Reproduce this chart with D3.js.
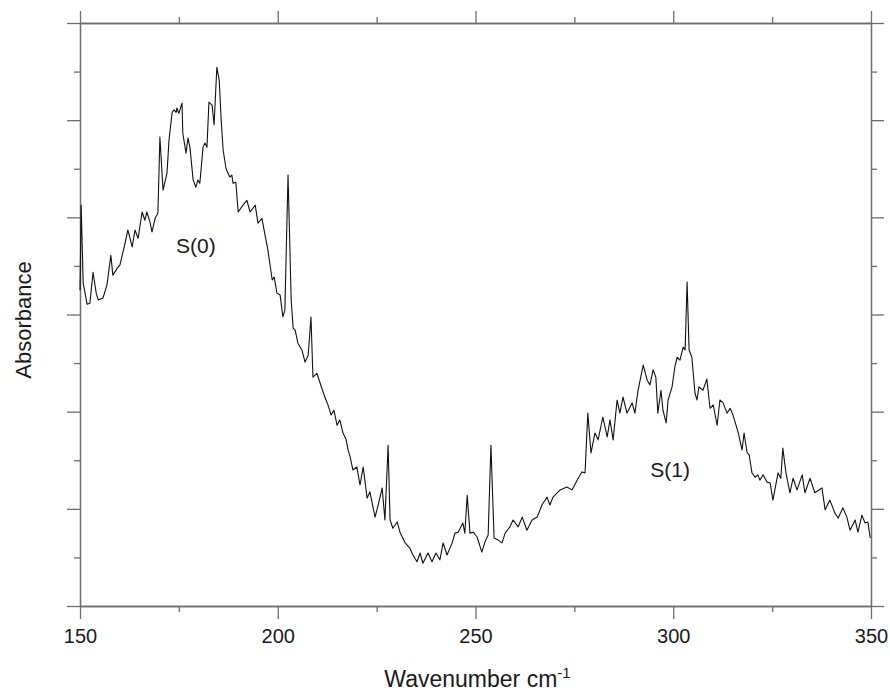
<!DOCTYPE html>
<html>
<head>
<meta charset="utf-8">
<script src="https://d3js.org/d3.v7.min.js"></script>
<style>
body { margin: 0; background: #fff; }
svg text { font-family: Arial, "Liberation Sans", sans-serif; fill: #1a1a1a; }
.axis path, .axis line { stroke: #6e6e6e; stroke-width: 1.3; }
</style>
</head>
<body>
<svg id="chart" width="890" height="691"></svg>
<script>
// spectrum, wavenumber in cm-1, absorbance in arbitrary units
var wavenumber = [
  150.0,150.3,150.8,151.8,152.5,153.3,154.1,154.6,155.8,156.8,
  157.8,158.3,159.4,160.1,161.4,162.1,163.2,163.9,164.7,165.7,
  166.4,166.9,167.7,168.2,169.0,169.7,170.2,171.0,172.0,172.5,
  173.3,173.8,174.3,174.5,175.0,175.8,176.0,176.8,177.3,177.8,
  178.6,179.3,179.8,180.3,181.1,181.6,182.1,182.6,183.4,183.9,
  184.6,185.2,185.7,186.2,186.9,187.4,187.9,188.4,188.7,189.4,
  190.0,191.2,192.2,193.0,194.3,195.0,196.0,196.8,197.5,198.6,
  199.1,199.8,200.6,201.3,201.8,202.6,203.4,203.9,204.4,205.1,
  206.1,206.9,207.7,208.4,208.9,209.9,210.7,212.0,212.7,213.5,
  214.2,215.0,215.7,216.5,217.3,217.8,218.3,219.0,220.0,220.8,
  221.6,222.6,223.3,224.6,225.4,226.4,227.1,227.9,228.4,229.1,
  230.2,230.9,232.2,233.4,234.2,235.2,236.0,236.7,238.0,239.0,
  240.0,241.0,241.8,242.8,244.1,244.8,245.6,246.8,247.3,247.9,
  248.6,249.4,250.4,251.6,252.4,253.2,253.9,254.7,255.7,256.7,
  257.5,258.7,259.5,260.8,261.8,263.0,264.3,265.6,266.8,268.1,
  268.8,269.6,271.4,273.1,274.4,275.7,276.9,277.7,278.4,279.2,
  280.2,281.0,282.2,283.3,284.0,284.8,285.8,286.5,287.3,288.3,
  289.6,290.3,291.1,292.4,293.4,294.1,294.9,295.6,296.1,296.9,
  297.4,298.2,298.7,299.7,300.4,301.0,301.7,302.5,303.0,303.5,
  304.0,304.7,305.5,306.0,306.5,307.5,308.5,309.3,310.1,311.1,
  311.8,312.6,313.6,314.4,315.1,316.4,317.4,317.9,318.7,319.2,
  319.9,320.7,321.4,321.9,322.7,323.7,324.5,325.2,326.5,327.2,
  327.7,328.5,329.5,330.3,331.3,332.6,333.3,334.6,335.8,337.6,
  338.4,339.6,340.9,341.7,342.9,343.9,344.7,346.0,346.7,347.7,
  348.5,349.2,349.8
];
var absorbance = [
  0.650,0.825,0.665,0.621,0.623,0.687,0.644,0.630,0.634,0.660,
  0.722,0.681,0.695,0.702,0.747,0.774,0.739,0.774,0.757,0.811,
  0.794,0.811,0.790,0.770,0.798,0.809,0.965,0.856,0.891,0.959,
  1.016,1.021,1.016,1.025,1.014,1.035,0.973,0.932,0.963,0.944,
  0.877,0.862,0.877,0.870,0.944,0.953,0.944,1.037,1.031,0.990,
  1.109,1.082,1.000,0.938,0.901,0.891,0.883,0.887,0.870,0.872,
  0.811,0.825,0.835,0.811,0.825,0.788,0.798,0.763,0.733,0.671,
  0.677,0.644,0.640,0.595,0.609,0.887,0.630,0.572,0.568,0.541,
  0.527,0.502,0.516,0.595,0.471,0.479,0.459,0.428,0.414,0.393,
  0.403,0.372,0.383,0.356,0.342,0.321,0.307,0.280,0.286,0.249,
  0.286,0.222,0.235,0.183,0.208,0.243,0.177,0.331,0.177,0.160,
  0.173,0.152,0.130,0.119,0.105,0.091,0.109,0.088,0.109,0.091,
  0.109,0.095,0.130,0.105,0.130,0.150,0.152,0.171,0.150,0.228,
  0.150,0.152,0.142,0.111,0.132,0.146,0.331,0.140,0.136,0.130,
  0.150,0.163,0.177,0.163,0.183,0.156,0.177,0.183,0.208,0.224,
  0.208,0.224,0.239,0.245,0.239,0.259,0.276,0.274,0.397,0.315,
  0.356,0.342,0.389,0.348,0.383,0.342,0.424,0.397,0.430,0.397,
  0.418,0.397,0.444,0.496,0.465,0.455,0.486,0.471,0.397,0.444,
  0.403,0.377,0.424,0.451,0.492,0.512,0.506,0.533,0.527,0.667,
  0.527,0.512,0.438,0.424,0.451,0.444,0.467,0.407,0.414,0.372,
  0.424,0.418,0.397,0.407,0.393,0.358,0.321,0.356,0.315,0.311,
  0.274,0.265,0.270,0.259,0.270,0.255,0.253,0.218,0.274,0.263,
  0.325,0.274,0.233,0.263,0.239,0.270,0.233,0.263,0.233,0.243,
  0.198,0.218,0.191,0.181,0.202,0.183,0.156,0.177,0.152,0.187,
  0.171,0.173,0.140
];

var xTicks = [150, 200, 250, 300, 350];
var xMinorTicks = [175, 225, 275, 325];
var yTicks = [0, 0.2, 0.4, 0.6, 0.8, 1.0, 1.2];
var yMinorTicks = [0.1, 0.3, 0.5, 0.7, 0.9, 1.1];
var peakNames = ["S(0)", "S(1)"];
var peakCentres = [179.3, 299.2];
var peakLabelLevels = [0.726, 0.265];

var svg = d3.select("#chart");
var plotLeft = 80, plotRight = 871, plotTop = 23, plotBottom = 606;

var x = d3.scaleLinear().domain([150, 350]).range([plotLeft, plotRight]);
var y = d3.scaleLinear().domain([0, 1.2]).range([plotBottom, plotTop]);

// major and minor ticks on all four sides, no labels on y
function addAxis(axis, tx, ty) {
  return svg.append("g").attr("class", "axis")
    .attr("transform", "translate(" + tx + "," + ty + ")")
    .call(axis);
}

var xb = addAxis(d3.axisBottom(x).tickValues(xTicks).tickSize(13).tickSizeOuter(0).tickPadding(10), 0, plotBottom);
xb.selectAll("text").style("font-size", "20px").attr("fill", "#1a1a1a");
addAxis(d3.axisBottom(x).tickValues(xMinorTicks).tickSize(6).tickSizeOuter(0).tickFormat(""), 0, plotBottom);
addAxis(d3.axisTop(x).tickValues(xTicks).tickSize(12).tickSizeOuter(0).tickFormat(""), 0, plotTop);
addAxis(d3.axisTop(x).tickValues(xMinorTicks).tickSize(6).tickSizeOuter(0).tickFormat(""), 0, plotTop);
addAxis(d3.axisLeft(y).tickValues(yTicks).tickSize(13).tickSizeOuter(0).tickFormat(""), plotLeft, 0);
addAxis(d3.axisLeft(y).tickValues(yMinorTicks).tickSize(6).tickSizeOuter(0).tickFormat(""), plotLeft, 0);
addAxis(d3.axisRight(y).tickValues(yTicks).tickSize(13).tickSizeOuter(0).tickFormat(""), plotRight, 0);
addAxis(d3.axisRight(y).tickValues(yMinorTicks).tickSize(6).tickSizeOuter(0).tickFormat(""), plotRight, 0);

var points = d3.zip(wavenumber, absorbance);

var line = d3.line()
  .x(function(d) { return x(d[0]); })
  .y(function(d) { return y(d[1]); });

svg.append("path")
  .datum(points)
  .attr("d", line)
  .attr("fill", "none")
  .attr("stroke", "#111")
  .attr("stroke-width", 1.1)
  .attr("stroke-linejoin", "round");

svg.selectAll(".peak")
  .data(peakNames)
  .enter()
  .append("text")
  .attr("class", "peak")
  .attr("x", function(d, i) { return x(peakCentres[i]); })
  .attr("y", function(d, i) { return y(peakLabelLevels[i]); })
  .attr("text-anchor", "middle")
  .style("font-size", "21px")
  .text(function(d) { return d; });

var xt = svg.append("text")
  .attr("x", (plotLeft + plotRight) / 2 + 2)
  .attr("y", 687)
  .attr("text-anchor", "middle")
  .style("font-size", "23px");
xt.append("tspan").text("Wavenumber cm");
xt.append("tspan").attr("dy", -9).style("font-size", "15px").text("-1");

svg.append("text")
  .attr("transform", "translate(31,320) rotate(-90)")
  .attr("text-anchor", "middle")
  .style("font-size", "22px")
  .text("Absorbance");
</script>
</body>
</html>
